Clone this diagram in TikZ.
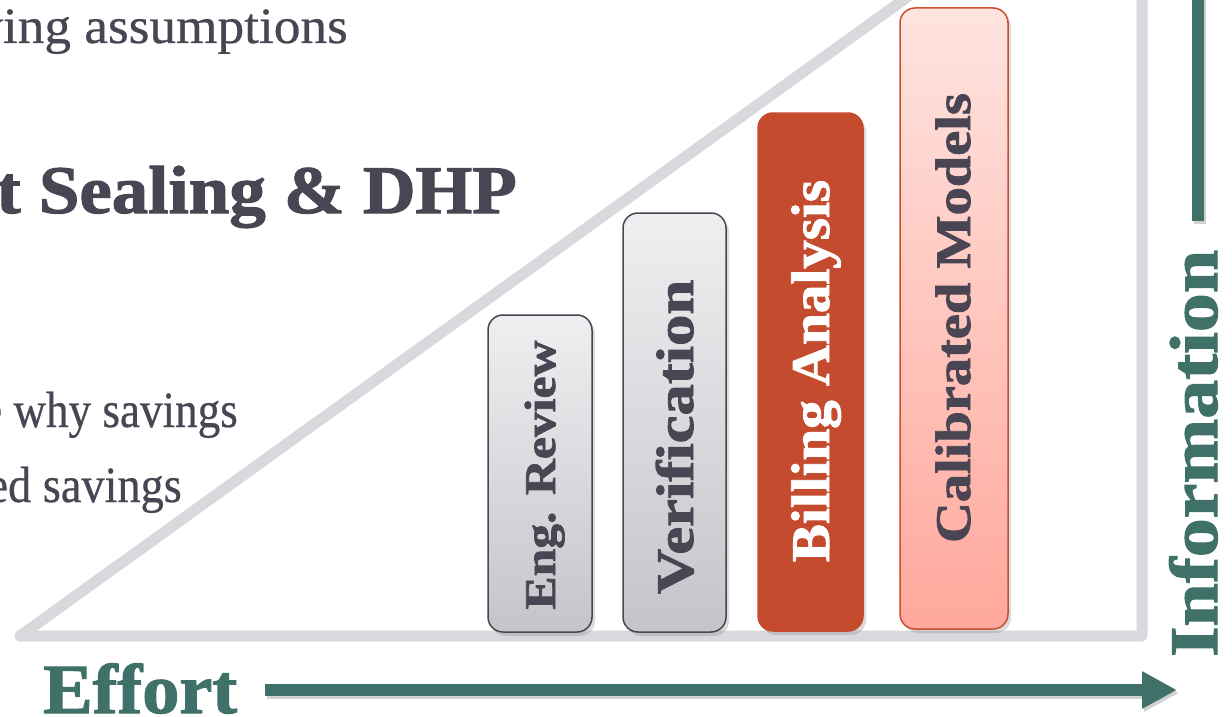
\documentclass[tikz,border=0pt]{standalone}
\usepackage{graphicx}
\usepackage{fontspec}
\setmainfont{Liberation Serif}
\newfontfamily\heavy[FakeBold=1.6]{Liberation Serif Bold}
\newfontfamily\bodyfont[FakeBold=0.5]{Liberation Serif}
\usetikzlibrary{arrows.meta,shadows}
\definecolor{txt}{HTML}{4A4552}
\definecolor{grn}{HTML}{3F7169}
\definecolor{tri}{HTML}{D9D8DC}
\definecolor{bill}{HTML}{C54B2E}
\definecolor{calb}{HTML}{C9502F}
\definecolor{caltop}{HTML}{FFE4E0}
\definecolor{calbot}{HTML}{FFA89C}
\definecolor{gtop}{HTML}{EFEFF1}
\definecolor{gbot}{HTML}{C5C4CA}
\newcommand{\fsz}[1]{\fontsize{#1}{#1}\selectfont}
\newcommand{\sxx}[2]{\scalebox{#1}[1]{#2}}
\newcommand{\sxy}[3]{\scalebox{#1}[#2]{#3}}
\begin{document}
\begin{tikzpicture}[x=1pt,y=-1pt,
  bar/.style={rounded corners=15pt, line width=1.5pt, inner sep=0pt,
    drop shadow={shadow xshift=3pt, shadow yshift=-4pt, opacity=0.28}},
  graybar/.style={bar, draw=txt, top color=gtop, bottom color=gbot},
  bartext/.style={rotate=90, anchor=base, inner sep=0pt},
  plaintext/.style={anchor=base east, inner sep=0pt, text=txt},
  axis/.style={grn, line width=12pt},
  axisshadow/.style={black, opacity=0.18, line width=12pt},
  tip/.style={-{Triangle[length=35pt,width=35pt]}}]
\useasboundingbox (0,0) rectangle (1232,717);
\clip (0,0) rectangle (1232,717);
\fill[white] (0,0) rectangle (1232,717);

% triangle
\draw[tri, line width=11pt, line join=round] (1142,-172) -- (20,636) -- (1142,636) -- cycle;

% left texts
\node[plaintext, font=\bodyfont\fsz{48}] (t1) at (348,43) {\sxy{1.11}{1.06}{ving assumptions}};
\node[plaintext, font=\heavy\fsz{68}] (t2) at (517,213) {\sxx{1.072}{t Sealing \& DHP}};
\node[plaintext, font=\bodyfont\fsz{48}] (t3) at (238,427) {\sxy{0.94}{1.06}{e why savings}};
\node[plaintext, font=\bodyfont\fsz{48}] (t4) at (182,502) {\sxy{0.965}{1.06}{ed savings}};

% bars
\node[graybar, minimum width=104pt, minimum height=317pt] (b1) at (540,473.5) {};
\node[graybar, minimum width=103pt, minimum height=419pt] (b2) at (674.5,422.5) {};
\node[bar, fill=bill, draw=bill, minimum width=105pt, minimum height=518pt] (b3) at (810.5,372) {};
\node[bar, draw=calb, top color=caltop, bottom color=calbot, minimum width=108pt, minimum height=621pt] (b4) at (954,318.5) {};

\node[bartext, text=txt, font=\heavy\fsz{43.8}] (b1t) at (555,475) {\sxx{1.134}{Eng. Review}};
\node[bartext, text=txt, font=\heavy\fsz{52.9}] (b2t) at (693,437) {\sxx{1.184}{Verification}};
\node[bartext, text=white, font=\heavy\fsz{54.4}] (b3t) at (829,371) {\sxx{1.049}{Billing Analysis}};
\node[bartext, text=txt, font=\heavy\fsz{49.8}] (b4t) at (970,318) {\sxx{1.133}{Calibrated Models}};

% axes
\coordinate (ea) at (265,690);
\coordinate (eb) at (1177,690);
\coordinate (eas) at (267,693);
\coordinate (ebs) at (1179,693);
\draw[axisshadow, tip] (eas) -- (ebs);
\draw[axis, tip] (ea) -- (eb);

\coordinate (ia) at (1198,221);
\coordinate (ib) at (1198,-5);
\coordinate (ias) at (1200,224);
\coordinate (ibs) at (1200,-5);
\draw[axisshadow] (ias) -- (ibs);
\draw[axis] (ia) -- (ib);

\node[anchor=base west, inner sep=0pt, text=grn, font=\heavy\fsz{70.5}] (eff) at (43,713) {\sxx{1.054}{Effort}};
\node[rotate=90, anchor=base west, inner sep=0pt, text=grn, font=\heavy\fsz{68}] (inf) at (1217,657) {\sxx{1.146}{Information}};
\end{tikzpicture}
\end{document}
